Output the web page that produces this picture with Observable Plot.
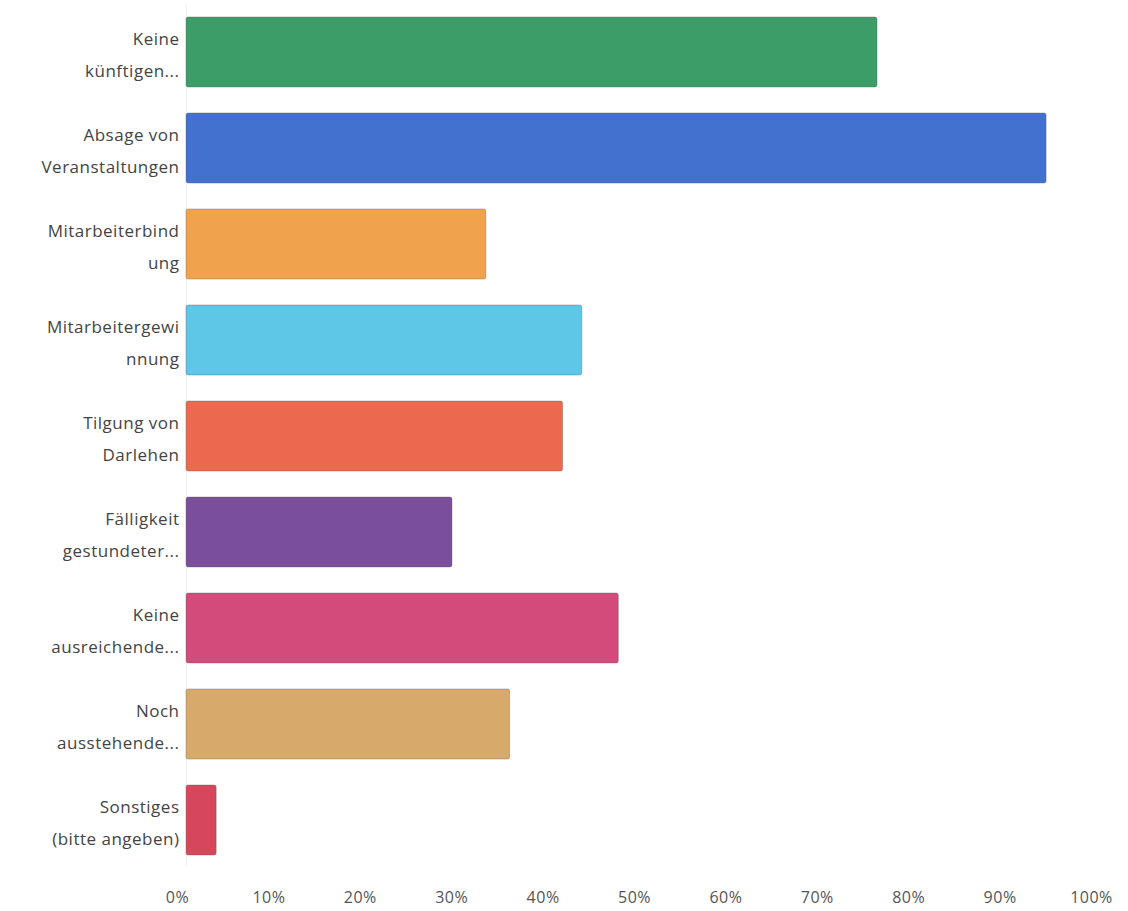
<!DOCTYPE html>
<html>
<head>
<meta charset="utf-8">
<script src="https://cdn.jsdelivr.net/npm/d3@7"></script>
<script src="https://cdn.jsdelivr.net/npm/@observablehq/plot@0.6"></script>
<style>
  html, body { margin: 0; padding: 0; background: #fff; }
  #chart svg { display: block; }
</style>
</head>
<body>
<div id="chart"></div>
<script>
const categories = [
  "Keine\nkünftigen...",
  "Absage von\nVeranstaltungen",
  "Mitarbeiterbind\nung",
  "Mitarbeitergewi\nnnung",
  "Tilgung von\nDarlehen",
  "Fälligkeit\ngestundeter...",
  "Keine\nausreichende...",
  "Noch\nausstehende...",
  "Sonstiges\n(bitte angeben)"
];
const values = [75.6, 94.1, 32.8, 43.3, 41.2, 29.1, 47.3, 35.4, 3.3];
const colors = ["#3c9d69", "#4271d0", "#f0a34c", "#5ec6e6", "#eb6a4f", "#7a4e9a", "#d24b7a", "#d7aa6c", "#d7475b"];
const tickValues = [0, 10, 20, 30, 40, 50, 60, 70, 80, 90, 100];

const data = categories.map((c, i) => ({category: c, value: values[i], color: colors[i]}));

const chart = Plot.plot({
  width: 1128,
  height: 911,
  marginLeft: 186,
  marginRight: 28,
  marginTop: 5,
  marginBottom: 45,
  style: {fontFamily: "'Open Sans', sans-serif", background: "#fff"},
  x: {domain: [0, 100], axis: null, label: null},
  y: {domain: categories, paddingInner: 0.274, paddingOuter: 0.1, axis: null},
  marks: [
    Plot.ruleX([0], {stroke: "#f0f0f0", strokeWidth: 1}),
    Plot.barX(data, {
      x: "value", y: "category", fill: "color",
      stroke: "#555", strokeOpacity: 0.35, strokeWidth: 1, rx: 2
    }),
    Plot.text(data, {
      x: 0, y: "category", text: "category",
      textAnchor: "end", dx: -7, dy: -2, fontSize: 17, lineHeight: 1.9,
      fill: "#444", style: {letterSpacing: "0.6px"}
    }),
    Plot.axisX({
      ticks: tickValues, tickSize: 0, tickPadding: 25, label: null,
      tickFormat: d => d + "%", fontSize: 16, dx: -9,
      color: "#555"
    })
  ]
});
chart.style.letterSpacing = "0.5px";
document.getElementById("chart").appendChild(chart);
</script>
</body>
</html>
